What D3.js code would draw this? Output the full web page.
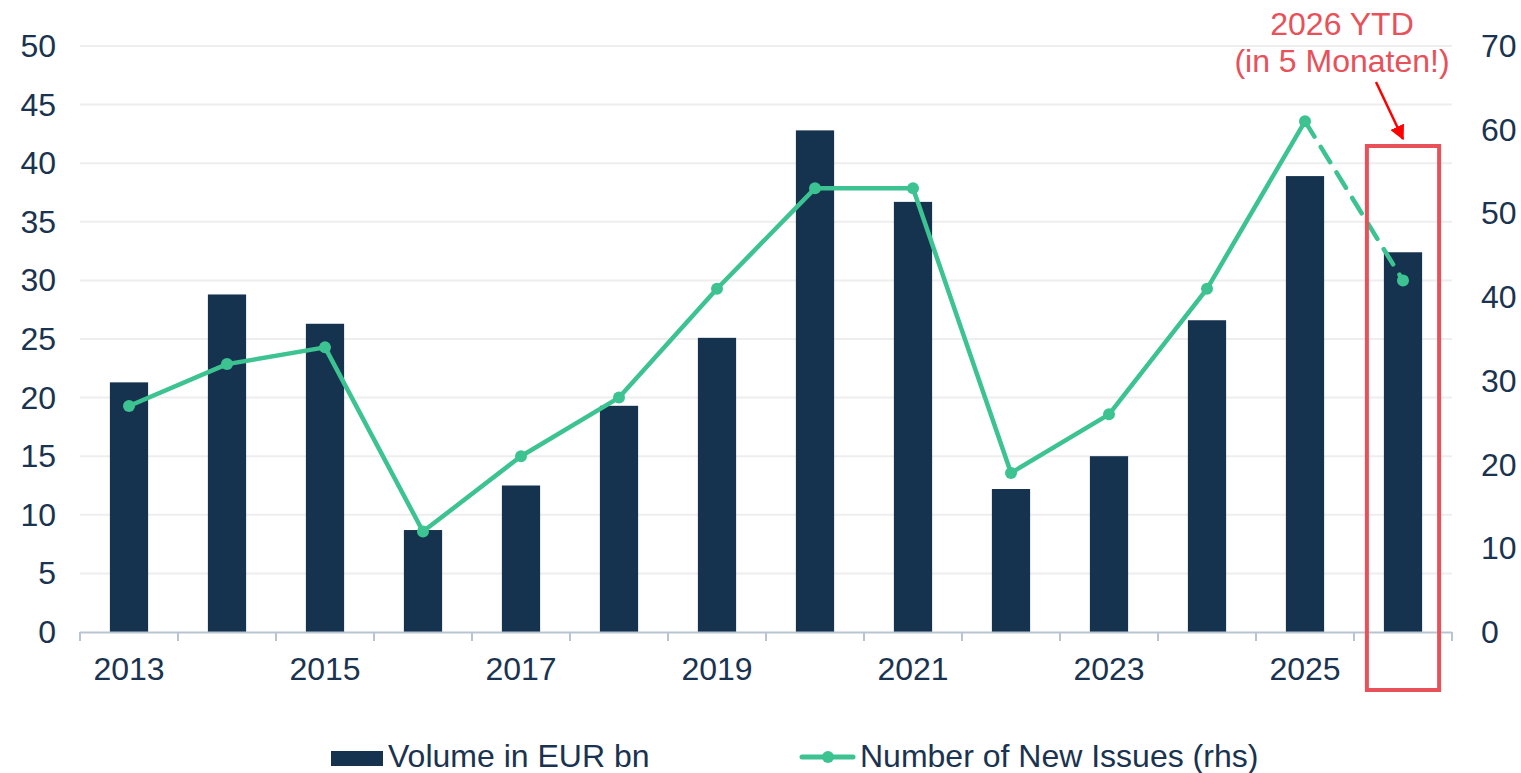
<!DOCTYPE html>
<html>
<head>
<meta charset="utf-8">
<script src="https://cdn.jsdelivr.net/npm/d3@7"></script>
<style>
  body { margin: 0; background: #fff; }
  text { font-family: "Liberation Sans", Arial, sans-serif; }
</style>
</head>
<body>
<script>
var years = [2013, 2014, 2015, 2016, 2017, 2018, 2019, 2020, 2021, 2022, 2023, 2024, 2025, 2026];
var volume = [21.3, 28.8, 26.3, 8.7, 12.5, 19.3, 25.1, 42.8, 36.7, 12.2, 15.0, 26.6, 38.9, 32.4];
var issues = [27, 32, 34, 12, 21, 28, 41, 53, 53, 19, 26, 41, 61, 42];
var leftTicks = [0, 5, 10, 15, 20, 25, 30, 35, 40, 45, 50];
var rightTicks = [0, 10, 20, 30, 40, 50, 60, 70];
var xLabels = [2013, 2015, 2017, 2019, 2021, 2023, 2025];

var width = 1521,
    height = 773;

var navy = '#15324f',
    green = '#3cc391',
    red = '#e8505a',
    dark = '#1a3350',
    fs = 32;

var svg = d3.select('body')
  .append('svg')
  .attr('width', width)
  .attr('height', height);

var x = d3.scaleBand()
  .domain(years)
  .range([80, 1452])
  .paddingInner(0.61)
  .paddingOuter(0.305);

var yL = d3.scaleLinear().domain([0, 50]).range([632, 46]);
var yR = d3.scaleLinear().domain([0, 70]).range([632, 46]);

// gridlines
svg.append('g')
  .selectAll('line')
  .data(leftTicks.slice(1))
  .enter()
  .append('line')
  .attr('x1', 80)
  .attr('x2', 1452)
  .attr('y1', function(d) { return yL(d); })
  .attr('y2', function(d) { return yL(d); })
  .attr('stroke', '#eeeeee')
  .attr('stroke-width', 2);

// bars
svg.append('g')
  .selectAll('rect')
  .data(volume)
  .enter()
  .append('rect')
  .attr('x', function(d, i) { return x(years[i]); })
  .attr('width', x.bandwidth())
  .attr('y', function(d) { return yL(d); })
  .attr('height', function(d) { return yL(0) - yL(d); })
  .attr('fill', navy);

// x axis
var step = x.step();
var tickPos = d3.range(years.length + 1).map(function(i) { return 80 + i * step; });
svg.append('line')
  .attr('x1', 80).attr('x2', 1452)
  .attr('y1', 632.5).attr('y2', 632.5)
  .attr('stroke', '#b8c4cf').attr('stroke-width', 2);
svg.append('g')
  .selectAll('line')
  .data(tickPos)
  .enter()
  .append('line')
  .attr('x1', function(d) { return d; })
  .attr('x2', function(d) { return d; })
  .attr('y1', 632).attr('y2', 641)
  .attr('stroke', '#b8c4cf').attr('stroke-width', 2);

svg.append('g')
  .selectAll('text')
  .data(xLabels)
  .enter()
  .append('text')
  .attr('x', function(d) { return x(d) + x.bandwidth() / 2; })
  .attr('y', 680)
  .attr('text-anchor', 'middle')
  .attr('font-size', fs)
  .attr('fill', dark)
  .text(function(d) { return d; });

// left axis labels
svg.append('g')
  .selectAll('text')
  .data(leftTicks)
  .enter()
  .append('text')
  .attr('x', 56)
  .attr('y', function(d) { return yL(d) + 11; })
  .attr('text-anchor', 'end')
  .attr('font-size', fs)
  .attr('fill', dark)
  .text(function(d) { return d; });

// right axis labels
svg.append('g')
  .selectAll('text')
  .data(rightTicks)
  .enter()
  .append('text')
  .attr('x', 1481)
  .attr('y', function(d) { return yR(d) + 11; })
  .attr('text-anchor', 'start')
  .attr('font-size', fs)
  .attr('fill', dark)
  .text(function(d) { return d; });

// line
var pts = issues.map(function(d, i) { return [x(years[i]) + x.bandwidth() / 2, yR(d)]; });
var line = d3.line();
svg.append('path')
  .attr('d', line(pts.slice(0, pts.length - 1)))
  .attr('fill', 'none')
  .attr('stroke', green)
  .attr('stroke-width', 4.5)
  .attr('stroke-linejoin', 'round');
svg.append('path')
  .attr('d', line(pts.slice(pts.length - 2)))
  .attr('fill', 'none')
  .attr('stroke', green)
  .attr('stroke-width', 4.5)
  .attr('stroke-dasharray', '18,12')
  .attr('stroke-linecap', 'round');
svg.append('g')
  .selectAll('circle')
  .data(pts)
  .enter()
  .append('circle')
  .attr('cx', function(d) { return d[0]; })
  .attr('cy', function(d) { return d[1]; })
  .attr('r', 6)
  .attr('fill', green);

// highlight box for 2026
var last = years[years.length - 1];
svg.append('rect')
  .attr('x', x(last) - 17)
  .attr('y', 146)
  .attr('width', x.bandwidth() + 34)
  .attr('height', 544)
  .attr('fill', 'none')
  .attr('stroke', red)
  .attr('stroke-width', 4);

// annotation
svg.append('text')
  .attr('x', 1342).attr('y', 35)
  .attr('text-anchor', 'middle')
  .attr('font-size', fs)
  .attr('fill', red)
  .text('2026 YTD');
svg.append('text')
  .attr('x', 1342).attr('y', 72)
  .attr('text-anchor', 'middle')
  .attr('font-size', fs)
  .attr('fill', red)
  .text('(in 5 Monaten!)');

svg.append('defs').append('marker')
  .attr('id', 'arrow')
  .attr('viewBox', '0 0 10 10')
  .attr('refX', 9).attr('refY', 5)
  .attr('markerWidth', 6).attr('markerHeight', 6)
  .attr('orient', 'auto')
  .append('path')
  .attr('d', 'M0,0 L10,5 L0,10 Z')
  .attr('fill', '#ff0000');
svg.append('line')
  .attr('x1', 1376).attr('y1', 82)
  .attr('x2', 1403).attr('y2', 139)
  .attr('stroke', '#ff0000')
  .attr('stroke-width', 2.5)
  .attr('marker-end', 'url(#arrow)');

// legend
var legend = svg.append('g');
legend.append('rect')
  .attr('x', 331).attr('y', 751)
  .attr('width', 52).attr('height', 15)
  .attr('fill', navy);
legend.append('text')
  .attr('x', 388).attr('y', 767)
  .attr('font-size', fs)
  .attr('fill', dark)
  .text('Volume in EUR bn');
legend.append('line')
  .attr('x1', 802).attr('x2', 853)
  .attr('y1', 757).attr('y2', 757)
  .attr('stroke', green)
  .attr('stroke-width', 5)
  .attr('stroke-linecap', 'round');
legend.append('circle')
  .attr('cx', 828).attr('cy', 757)
  .attr('r', 6)
  .attr('fill', green);
legend.append('text')
  .attr('x', 860).attr('y', 767)
  .attr('font-size', fs)
  .attr('fill', dark)
  .text('Number of New Issues (rhs)');
</script>
</body>
</html>
